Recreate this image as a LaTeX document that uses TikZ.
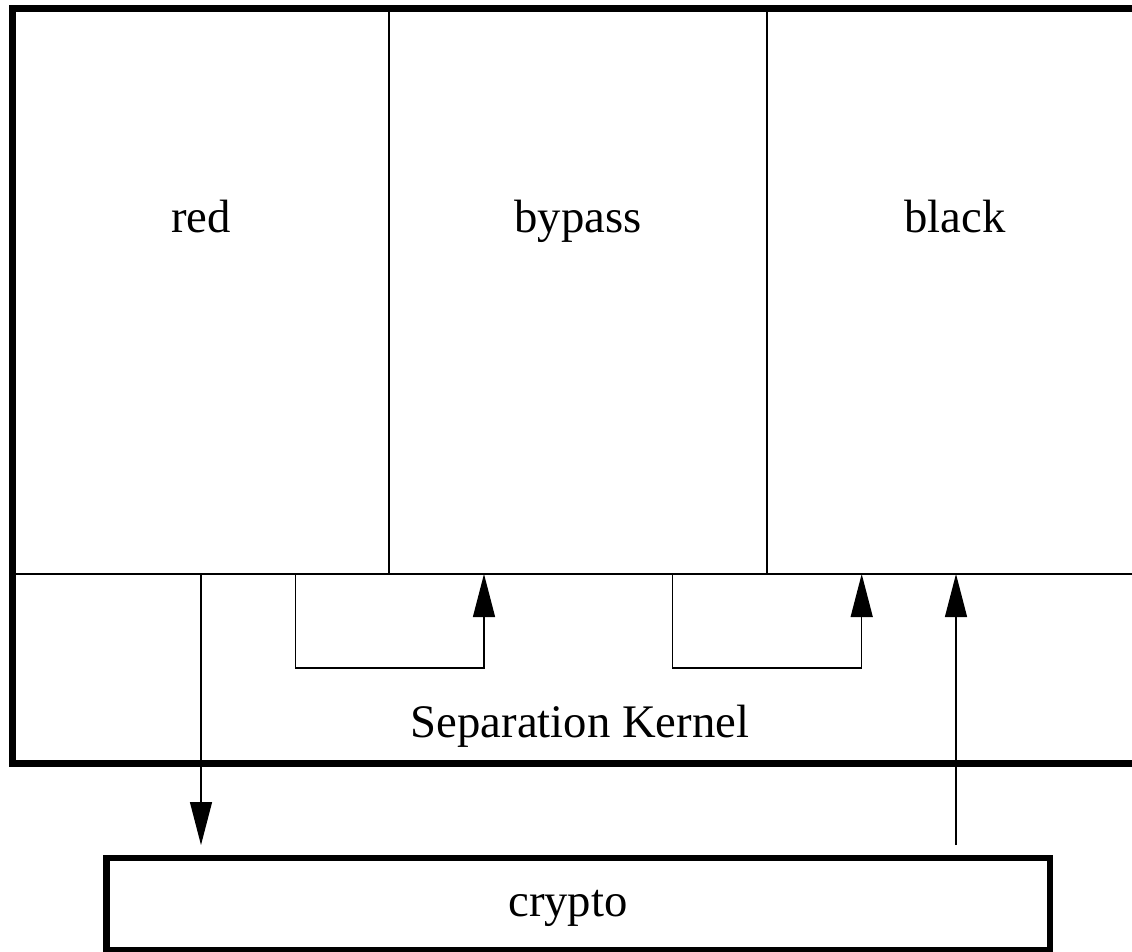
\documentclass[tikz,border=0pt]{standalone}
\usepackage{fontspec}
\setmainfont{Liberation Serif}
\usetikzlibrary{arrows.meta}
\begin{document}
\begin{tikzpicture}[x=1pt,y=-1pt,
  label/.style={anchor=base,inner sep=0pt,font=\fontsize{46.7}{56}\selectfont},
  frame/.style={line width=7pt},
  divider/.style={line width=2pt},
  flow/.style={line width=1.3pt,-{Triangle[length=43pt,width=22pt]}},
  region/.style={inner sep=0pt,outer sep=0pt}]
  \useasboundingbox (0,0) rectangle (1132,951);
  \clip (0,0) rectangle (1132,951);

  % named regions of the upper system
  \node[region,minimum width=377pt,minimum height=565.5pt] (redpanel) at (200.5,291.25) {};
  \node[region,minimum width=378pt,minimum height=565.5pt] (bypasspanel) at (578,291.25) {};
  \node[region,minimum width=380pt,minimum height=565.5pt] (blackpanel) at (957,291.25) {};
  \node[region,minimum width=1135pt,minimum height=189pt] (kernel) at (579.5,668.5) {};
  \node[region,minimum width=943.3pt,minimum height=92pt] (crypto) at (578.3,904) {};

  % outer frame and partitions
  \draw[frame] (1145,8.5) -| (12,763) -- (1145,763);
  \draw[divider] (kernel.north west) -- (1145,574);
  \draw[divider] (bypasspanel.north west) -- (bypasspanel.south west);
  \draw[divider] (blackpanel.north west) -- (blackpanel.south west);

  % crypto box
  \draw[frame,line width=6.7pt] (crypto.north west) rectangle (crypto.south east);

  % labels
  \node[label] at (201,232) {red};
  \node[label] at (578,232) {bypass};
  \node[label] at (955,232) {black};
  \node[label] at (580,737) {Separation Kernel};
  \node[label] at (568,916) {crypto};

  % connector end points
  \coordinate (redout) at (201,574);
  \coordinate (cryptoin) at (201,845);
  \coordinate (cryptoout) at (956,845);
  \coordinate (blackin) at (956,574);
  \coordinate (l1a) at (295.7,574);
  \coordinate (l1b) at (484,574);
  \coordinate (l2a) at (672.7,574);
  \coordinate (l2b) at (861.7,574);

  % data flows
  \draw[flow] (redout) -- (cryptoin);
  \draw[flow] (cryptoout) -- (blackin);
  \draw[flow] (l1a) -- ++(0,94) -| (l1b);
  \draw[flow] (l2a) -- ++(0,94) -| (l2b);
\end{tikzpicture}
\end{document}
